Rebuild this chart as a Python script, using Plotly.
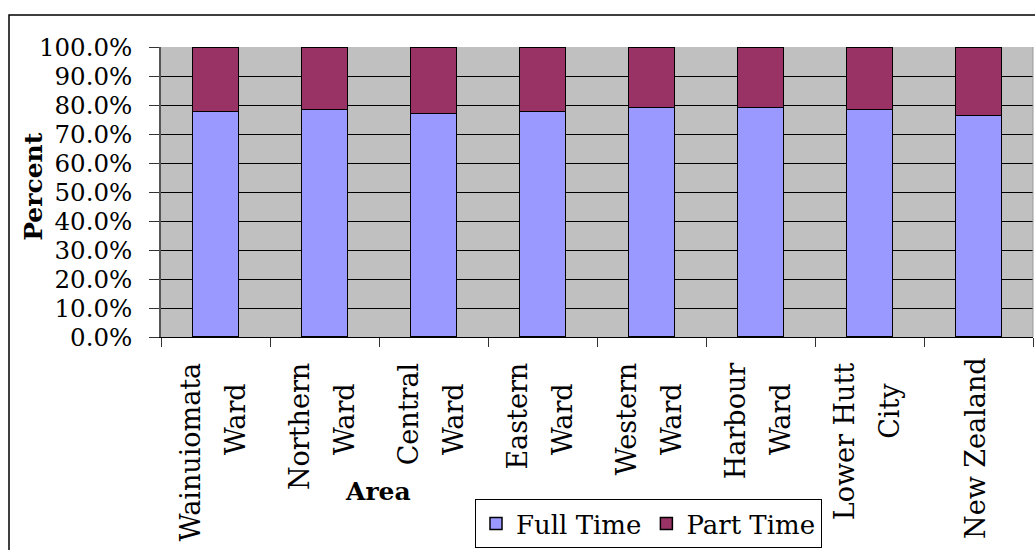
import plotly.graph_objects as go

areas = ["Wainuiomata Ward", "Northern Ward", "Central Ward", "Eastern Ward",
         "Western Ward", "Harbour Ward", "Lower Hutt City", "New Zealand"]
label_line1 = ["Wainuiomata", "Northern", "Central", "Eastern",
               "Western", "Harbour", "Lower Hutt", ""]
label_line2 = ["Ward", "Ward", "Ward", "Ward", "Ward", "Ward", "City", ""]
label_single = ["", "", "", "", "", "", "", "New Zealand"]
full_time = [77.8, 78.5, 77.1, 77.7, 79.1, 79.1, 78.5, 76.4]
part_time = [22.2, 21.5, 22.9, 22.3, 20.9, 20.9, 21.5, 23.6]
y_ticks = [0, 10, 20, 30, 40, 50, 60, 70, 80, 90, 100]
y_tick_text = ["0.0%", "10.0%", "20.0%", "30.0%", "40.0%", "50.0%",
               "60.0%", "70.0%", "80.0%", "90.0%", "100.0%"]

FONT = "DejaVu Serif"

fig = go.Figure()
fig.add_trace(go.Bar(name="Full Time", x=areas, y=full_time,
                     marker=dict(color="#9999FF", line=dict(color="black", width=1.5))))
fig.add_trace(go.Bar(name="Part Time", x=areas, y=part_time,
                     marker=dict(color="#993366", line=dict(color="black", width=1.5))))

idx = list(range(len(areas)))
# empty carrier traces so the two extra label axes are drawn
for ax in ("x2", "x3"):
    fig.add_trace(go.Scatter(x=idx, y=[None] * len(idx), xaxis=ax, yaxis="y",
                             mode="markers", showlegend=False, hoverinfo="skip"))

L, R, T, B = 161, 2, 47, 212.5
W, H = 1035, 550
pw, ph = W - L - R, H - T - B

def px_x(x):
    return (x - L) / pw

def px_y(y):
    return (H - B - y) / ph

tickfont = dict(family=FONT, size=27, color="black")
overlay_axis = dict(overlaying="x", anchor="y", side="bottom", type="linear",
                    range=[-0.5, len(areas) - 0.5], tickmode="array", tickvals=idx,
                    tickangle=-90, showline=False, showgrid=False, zeroline=False,
                    ticks="", tickfont=tickfont, automargin=False)

fig.update_layout(
    barmode="stack",
    bargap=0.58,
    width=W, height=H,
    margin=dict(l=L, r=R, t=T, b=B, pad=0),
    paper_bgcolor="white",
    plot_bgcolor="#C0C0C0",
    font=dict(family=FONT, color="black"),
    showlegend=True,
    hovermode=False,
    legend=dict(orientation="h", x=px_x(475), y=px_y(500), xanchor="left", yanchor="top",
                bgcolor="white", bordercolor="black", borderwidth=1,
                font=dict(family=FONT, size=26, color="black"), traceorder="normal"),
    xaxis=dict(
        type="category", range=[-0.5, len(areas) - 0.5],
        tickmode="array", tickvals=areas, ticktext=label_line1,
        tickangle=-90, tickson="boundaries", ticks="outside", ticklen=9,
        tickcolor="#333", tickwidth=1,
        showline=True, linecolor="black", linewidth=1,
        showgrid=False, ticklabelstandoff=14, ticklabelshift=-24,
        tickfont=tickfont, automargin=False,
    ),
    xaxis2=dict(overlay_axis, ticktext=label_line2, ticklabelstandoff=40, ticklabelshift=21),
    xaxis3=dict(overlay_axis, ticktext=label_single, ticklabelstandoff=14, ticklabelshift=-2),
    yaxis=dict(
        range=[0, 100], tickmode="array", tickvals=y_ticks, ticktext=y_tick_text,
        ticks="outside", ticklen=10, tickcolor="#333", tickwidth=1,
        showline=True, linecolor="#555", linewidth=1.5,
        showgrid=True, gridcolor="black", gridwidth=1,
        zeroline=False, ticklabelstandoff=12,
        tickfont=dict(family=FONT, size=24.5, color="black"),
        automargin=False,
    ),
    annotations=[
        dict(text="<b>Area</b>", xref="paper", yref="paper",
             x=px_x(378), y=px_y(492), xanchor="center", yanchor="middle", showarrow=False,
             font=dict(family=FONT, size=25, color="black")),
        dict(text="<b>Percent</b>", xref="paper", yref="paper", textangle=-90,
             x=px_x(34), y=px_y(187), xanchor="center", yanchor="middle", showarrow=False,
             font=dict(family=FONT, size=25, color="black")),
    ],
    shapes=[
        dict(type="rect", xref="paper", yref="paper",
             x0=px_x(9), x1=px_x(1045), y0=px_y(15), y1=px_y(570),
             line=dict(color="black", width=1.5), layer="below"),
        dict(type="line", xref="paper", yref="paper", x0=1, x1=1, y0=0, y1=1,
             line=dict(color="#999", width=1)),
    ],
)

fig.write_html("out.html", config={"displayModeBar": False},
               post_script="document.body.style.margin='0';document.body.style.overflow='hidden';")
